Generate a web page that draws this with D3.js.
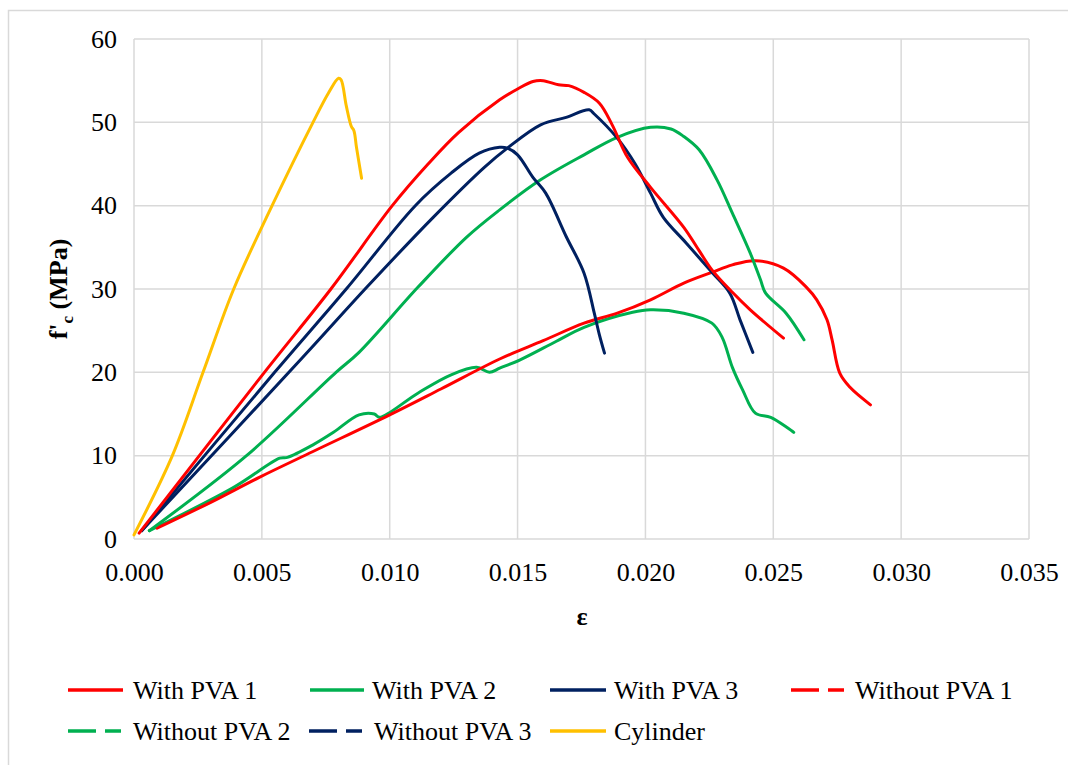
<!DOCTYPE html>
<html>
<head>
<meta charset="utf-8">
<script src="https://cdn.jsdelivr.net/npm/d3@7"></script>
</head>
<body style="margin:0">
<script>
// strain / stress pairs
var withPva1 = [[0.0002,0.7],[0.0051,20],[0.0077,30],[0.0101,40],[0.0115,45],[0.0127,48.8],[0.0143,52.7],[0.0150,54],[0.0156,54.9],[0.0160,55],[0.0166,54.5],[0.0170,54.4],[0.0176,53.6],[0.0182,52.3],[0.0187,49.7],[0.0193,45.8],[0.0202,42.2],[0.0215,37.4],[0.0221,34.6],[0.0226,32.3],[0.0234,29.6],[0.0241,27.5],[0.0254,24.1]];
var withPva2 = [[0.0006,1],[0.0044,10],[0.0079,20],[0.0088,22.4],[0.0111,30.2],[0.0130,36.2],[0.0143,39.5],[0.0159,43.1],[0.0176,46.1],[0.0189,48.2],[0.0202,49.4],[0.0210,49.2],[0.0215,48.3],[0.0221,46.7],[0.0228,43.1],[0.0234,39.1],[0.0241,34.3],[0.0245,31.1],[0.0247,29.5],[0.0255,27.1],[0.0262,23.9]];
var withPva3 = [[0.0003,1],[0.0066,21.8],[0.0091,30.2],[0.0117,38.6],[0.0137,44.6],[0.0146,46.9],[0.0159,49.7],[0.0169,50.6],[0.0178,51.5],[0.0180,51],[0.0189,48.1],[0.0196,45],[0.0202,41.5],[0.0207,38.6],[0.0216,35.5],[0.0226,32],[0.0233,29.5],[0.0237,26.3],[0.0242,22.4]];
var withoutPva1 = [[0.0009,1.3],[0.0030,4.4],[0.0049,7.4],[0.0070,10.5],[0.0100,14.9],[0.0120,18],[0.0143,21.6],[0.0160,23.8],[0.0176,25.9],[0.0189,27.1],[0.0202,28.7],[0.0215,30.7],[0.0226,32],[0.0234,32.9],[0.0243,33.4],[0.0254,32.5],[0.0263,30.2],[0.0267,28.7],[0.0271,26.3],[0.0273,23.9],[0.0276,19.9],[0.0280,18.2],[0.0288,16.1]];
var withoutPva2 = [[0.0006,1],[0.0039,6.2],[0.0057,9.7],[0.0060,9.8],[0.0070,11.3],[0.0078,12.8],[0.0088,14.9],[0.0094,15],[0.0096,14.6],[0.0111,17.5],[0.0124,19.7],[0.0134,20.6],[0.0139,20],[0.0143,20.5],[0.0151,21.5],[0.0165,23.7],[0.0176,25.4],[0.0195,27.2],[0.0202,27.5],[0.0215,27.1],[0.0226,25.9],[0.0230,24.2],[0.0234,20.6],[0.0238,17.9],[0.0243,15.1],[0.0249,14.6],[0.0258,12.8]];
var withoutPva3 = [[0.0003,1],[0.0055,20],[0.0083,30],[0.0110,40],[0.0124,43.9],[0.0135,46.3],[0.0143,47],[0.0146,46.9],[0.0150,46.1],[0.0156,43.4],[0.0161,41.5],[0.0169,36.3],[0.0176,31.9],[0.0180,27.1],[0.0182,24.5],[0.0184,22.3]];
var cylinder = [[0,0.5],[0.0015,10],[0.0027,20],[0.0039,30],[0.0054,40],[0.0070,50],[0.0076,53.5],[0.0080,55.3],[0.0081,55.1],[0.0083,52],[0.0085,49.5],[0.0086,49],[0.0087,47],[0.0089,43.3]];

var seriesNames = ['With PVA 1', 'With PVA 2', 'With PVA 3', 'Without PVA 1', 'Without PVA 2', 'Without PVA 3', 'Cylinder'];
var seriesData = [withPva1, withPva2, withPva3, withoutPva1, withoutPva2, withoutPva3, cylinder];
var xTicks = [0, 0.005, 0.010, 0.015, 0.020, 0.025, 0.030, 0.035];
var yTicks = [0, 10, 20, 30, 40, 50, 60];

var colors = {
  'red': '#FF0000',
  'green': '#00B050',
  'navy': '#002060',
  'yellow': '#FFC000'
};
var seriesColors = [colors.red, colors.green, colors.navy, colors.red, colors.green, colors.navy, colors.yellow];
var seriesDashed = [false, false, false, true, true, true, false];

var fontName = 'Times New Roman';
var width = 1068, height = 765;
var plotLeft = 134, plotRight = 1029, plotTop = 39, plotBottom = 539;

var svg = d3.select('body').append('svg')
  .attr('width', width)
  .attr('height', height)
  .attr('font-family', fontName);

svg.append('rect')
  .attr('x', 8.5).attr('y', 10.5)
  .attr('width', 1080).attr('height', 780)
  .attr('fill', '#fff')
  .attr('stroke', '#d9d9d9')
  .attr('stroke-width', 1.5);

var x = d3.scaleLinear().domain([0, 0.035]).range([plotLeft, plotRight]);
var y = d3.scaleLinear().domain([0, 60]).range([plotBottom, plotTop]);

// gridlines
svg.append('g')
  .selectAll('line')
  .data(yTicks)
  .enter().append('line')
  .attr('x1', plotLeft).attr('x2', plotRight)
  .attr('y1', function (d) { return y(d); })
  .attr('y2', function (d) { return y(d); })
  .attr('stroke', '#d9d9d9')
  .attr('stroke-width', 1.5);

svg.append('g')
  .selectAll('line')
  .data(xTicks)
  .enter().append('line')
  .attr('y1', plotTop).attr('y2', plotBottom)
  .attr('x1', function (d) { return x(d); })
  .attr('x2', function (d) { return x(d); })
  .attr('stroke', '#d9d9d9')
  .attr('stroke-width', 1.5);

// tick labels come from d3 axes; their lines are dropped
var xAxis = svg.append('g')
  .attr('transform', 'translate(0,' + plotBottom + ')')
  .call(d3.axisBottom(x).tickValues(xTicks).tickFormat(d3.format('.3f')).tickSize(0).tickPadding(24));
var yAxis = svg.append('g')
  .attr('transform', 'translate(' + plotLeft + ',0)')
  .call(d3.axisLeft(y).tickValues(yTicks).tickSize(0).tickPadding(17));
[xAxis, yAxis].forEach(function (a) {
  a.attr('font-family', fontName).attr('font-size', 26);
  a.select('.domain').remove();
  a.selectAll('text')
    .attr('font-family', fontName)
    .attr('font-size', 26)
    .attr('fill', '#000');
});

// curves
var line = d3.line()
  .x(function (d) { return x(d[0]); })
  .y(function (d) { return y(d[1]); })
  .curve(d3.curveCatmullRom.alpha(0.5));

var drawOrder = [6, 4, 3, 1, 5, 2, 0];
svg.append('g')
  .selectAll('path')
  .data(drawOrder)
  .enter().append('path')
  .attr('d', function (i) { return line(seriesData[i]); })
  .attr('fill', 'none')
  .attr('stroke', function (i) { return seriesColors[i]; })
  .attr('stroke-width', 3)
  .attr('stroke-linejoin', 'round')
  .attr('stroke-linecap', 'round');

// axis titles
var yTitle = svg.append('text')
  .attr('transform', 'translate(67,289) rotate(-90)')
  .attr('text-anchor', 'middle')
  .attr('font-family', fontName)
  .attr('font-size', 26)
  .attr('font-weight', 'bold');
yTitle.append('tspan').text("f'");
yTitle.append('tspan').attr('font-size', 17).attr('dy', 6).text('c');
yTitle.append('tspan').attr('dy', -6).text(' (MPa)');

svg.append('text')
  .attr('x', 582)
  .attr('y', 625)
  .attr('text-anchor', 'middle')
  .attr('font-family', fontName)
  .attr('font-size', 26)
  .attr('font-weight', 'bold')
  .text('ε');

// legend
var legendLine = [[68, 123], [310, 364], [550, 606], [791, 848], [68, 123], [309, 368], [550, 606]];
var legendText = [133, 372, 614, 855, 133, 374, 614];
var legendRow = [690, 690, 690, 690, 731, 731, 731];
var legend = svg.append('g')
  .selectAll('g')
  .data(seriesNames)
  .enter().append('g')
  .attr('transform', function (d, i) { return 'translate(0,' + legendRow[i] + ')'; });

legend.append('line')
  .attr('x1', function (d, i) { return legendLine[i][0]; })
  .attr('x2', function (d, i) { return legendLine[i][1]; })
  .attr('y1', 0).attr('y2', 0)
  .attr('stroke', function (d, i) { return seriesColors[i]; })
  .attr('stroke-width', 3.5)
  .attr('stroke-dasharray', function (d, i) { return seriesDashed[i] ? '28,9,16,100' : null; });

legend.append('text')
  .attr('x', function (d, i) { return legendText[i]; })
  .attr('y', 9)
  .attr('font-family', fontName)
  .attr('font-size', 26)
  .attr('fill', '#000')
  .text(function (d) { return d; });
</script>
</body>
</html>
